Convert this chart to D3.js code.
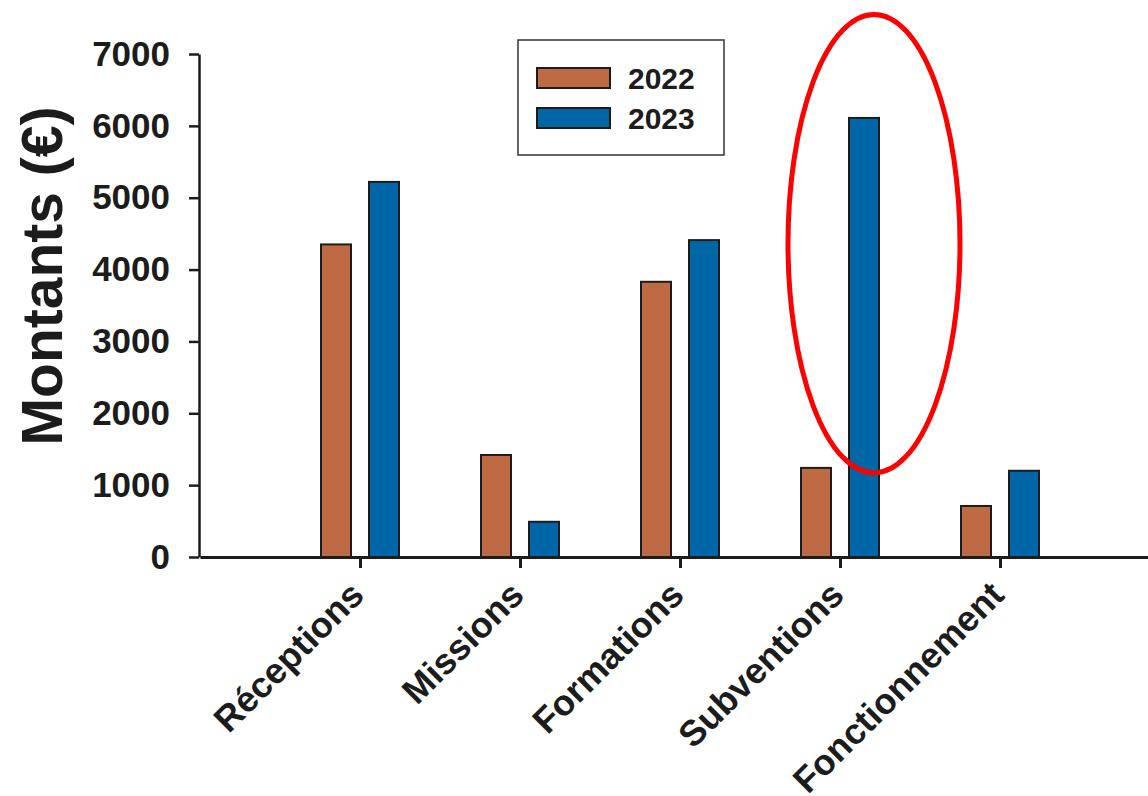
<!DOCTYPE html>
<html>
<head>
<meta charset="utf-8">
<script src="https://cdn.jsdelivr.net/npm/d3@7"></script>
<style>
  html, body { margin: 0; padding: 0; background: #fff; }
  svg { display: block; font-family: "Liberation Sans", Arial, sans-serif; font-weight: bold; }
</style>
</head>
<body>
<div id="bar-chart"></div>
<script>
const categories = ["Réceptions", "Missions", "Formations", "Subventions", "Fonctionnement"];
const years = ["2022", "2023"];
const values2022 = [4350, 1420, 3830, 1240, 710];
const values2023 = [5220, 490, 4410, 6110, 1200];
const yTicks = [0, 1000, 2000, 3000, 4000, 5000, 6000, 7000];

const colors = { "2022": "#be6a44", "2023": "#0066a6" };
const ink = "#1c1c1c";

const data = categories.map((c, i) => ({
  category: c,
  values: [
    { year: "2022", value: values2022[i] },
    { year: "2023", value: values2023[i] }
  ]
}));

const drawBarChart = () => {

  const width  = 1148;
  const height = 796;

  const svg = d3.select("#bar-chart")
    .append("svg")
    .attr("width", width)
    .attr("height", height)
    .attr("viewBox", `0 0 ${width} ${height}`);

  // first slot left empty, like the original
  const xScale = d3.scalePoint()
    .domain(categories)
    .range([200, 1160])
    .padding(1);

  const xInner = d3.scaleBand()
    .domain(years)
    .range([-39, 39])
    .paddingInner(0.375)
    .paddingOuter(0);

  const yScale = d3.scaleLinear()
    .domain([0, 7000])
    .range([557, 54]);

  // bars
  const groups = svg.selectAll("g.cat")
    .data(data)
    .join("g")
      .attr("class", "cat")
      .attr("transform", d => `translate(${xScale(d.category)}, 0)`);

  groups.selectAll("rect")
    .data(d => d.values)
    .join("rect")
      .attr("x", d => xInner(d.year))
      .attr("y", d => yScale(d.value))
      .attr("width", xInner.bandwidth())
      .attr("height", d => yScale(0) - yScale(d.value))
      .attr("fill", d => colors[d.year])
      .attr("stroke", ink)
      .attr("stroke-width", 2);

  // y axis — plain integers, no thousands separator
  const yAxis = svg.append("g")
    .attr("transform", "translate(199, 0)")
    .call(d3.axisLeft(yScale)
      .tickValues(yTicks)
      .tickFormat(d3.format("d"))
      .tickSize(10)
      .tickSizeOuter(0)
      .tickPadding(19));
  yAxis.select(".domain").attr("stroke", ink).attr("stroke-width", 2.5);
  yAxis.selectAll(".tick line").attr("stroke", ink).attr("stroke-width", 2.5);
  yAxis.selectAll(".tick text")
    .attr("fill", ink)
    .style("font-size", "35px")
    .style("font-family", "'Liberation Sans', Arial, sans-serif")
    .style("font-weight", "bold");

  // x axis
  const xAxis = svg.append("g")
    .attr("transform", `translate(0, ${yScale(0)})`)
    .call(d3.axisBottom(xScale).tickSize(11).tickSizeOuter(0).tickFormat(""));
  xAxis.select(".domain").attr("stroke", ink).attr("stroke-width", 3);
  xAxis.selectAll(".tick line").attr("stroke", ink).attr("stroke-width", 3);

  // rotated category labels
  svg.append("g")
    .selectAll("text")
    .data(categories)
    .join("text")
      .attr("transform", d => `translate(${xScale(d) + 6}, ${yScale(0) + 40}) rotate(-45)`)
      .attr("text-anchor", "end")
      .attr("fill", ink)
      .style("font-size", "36px")
      .text(d => d);

  // y axis title
  svg.append("text")
    .attr("transform", "translate(62, 276) rotate(-90)")
    .attr("text-anchor", "middle")
    .attr("fill", ink)
    .style("font-size", "57px")
    .text("Montants (€)");

  // legend
  const legend = svg.append("g").attr("transform", "translate(518, 40)");
  legend.append("rect")
    .attr("width", 206)
    .attr("height", 115)
    .attr("fill", "#fff")
    .attr("stroke", "#333")
    .attr("stroke-width", 1.5);

  const items = legend.selectAll("g.item")
    .data(years)
    .join("g")
      .attr("class", "item")
      .attr("transform", (d, i) => `translate(19, ${28 + i * 40})`);

  items.append("rect")
    .attr("width", 73)
    .attr("height", 20)
    .attr("fill", d => colors[d])
    .attr("stroke", ink)
    .attr("stroke-width", 2);

  items.append("text")
    .attr("x", 91)
    .attr("y", 10)
    .attr("dominant-baseline", "central")
    .attr("fill", ink)
    .style("font-size", "30px")
    .text(d => d);

  // red ellipse highlighting the 2023 subventions
  const hx = xScale("Subventions") + 34;
  svg.append("ellipse")
    .attr("cx", hx)
    .attr("cy", yScale(4360))
    .attr("rx", 86)
    .attr("ry", yScale(0) - yScale(3190))
    .attr("fill", "none")
    .attr("stroke", "#ff0000")
    .attr("stroke-width", 5);
};

drawBarChart();
</script>
</body>
</html>
